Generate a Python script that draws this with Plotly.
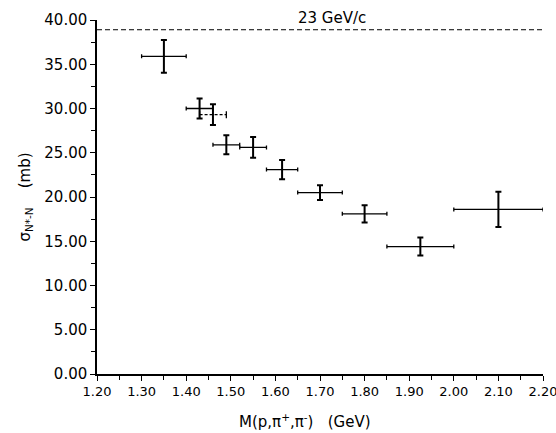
import plotly.graph_objects as go

# Data (solid points)
mass = [1.35, 1.43, 1.49, 1.55, 1.615, 1.70, 1.80, 1.925, 2.10]
sigma = [35.9, 30.0, 25.9, 25.6, 23.1, 20.5, 18.1, 14.4, 18.6]
mass_err = [0.05, 0.03, 0.03, 0.03, 0.035, 0.05, 0.05, 0.075, 0.10]
sigma_err = [1.85, 1.13, 1.07, 1.17, 1.09, 0.83, 0.98, 1.02, 2.0]

# Dashed-bar point
mass_d = [1.46]
sigma_d = [29.3]
mass_err_d = [0.03]
sigma_err_d = [1.17]

# Reference level
ref_value = 38.9
ref_label = "23 GeV/c"
x_range = [1.20, 2.20]
y_range = [0, 40]
x_ticks = [1.20, 1.30, 1.40, 1.50, 1.60, 1.70, 1.80, 1.90, 2.00, 2.10, 2.20]
y_ticks = [0, 5, 10, 15, 20, 25, 30, 35, 40]
x_title = "M(p,π<sup>+</sup>,π<sup>-</sup>)   (GeV)"
y_title = "σ<sub>N*-N</sub>    (mb)"

font_family = "DejaVu Sans"

fig = go.Figure()

fig.add_trace(go.Scatter(
    x=x_range, y=[ref_value, ref_value], mode="lines",
    line=dict(color="black", width=1, dash="5px,3px"), hoverinfo="skip"))

fig.add_trace(go.Scatter(
    x=mass, y=sigma, mode="markers",
    marker=dict(size=1, color="black"),
    error_x=dict(type="data", array=mass_err, color="black", thickness=1.3, width=2),
    error_y=dict(type="data", array=sigma_err, color="black", thickness=2, width=3)))

# dashed horizontal bar for the special point
fig.add_trace(go.Scatter(
    x=[mass_d[0] - mass_err_d[0], mass_d[0] + mass_err_d[0]],
    y=[sigma_d[0], sigma_d[0]], mode="lines+markers",
    line=dict(color="black", width=1.3, dash="3px,2px"),
    marker=dict(symbol="line-ns", size=5, line=dict(color="black", width=1.3))))
fig.add_trace(go.Scatter(
    x=mass_d, y=sigma_d, mode="markers",
    marker=dict(size=1, color="black"),
    error_y=dict(type="data", array=sigma_err_d, color="black", thickness=2, width=3)))

fig.add_annotation(x=1.727, y=ref_value, yshift=12, text=ref_label, showarrow=False,
                   font=dict(family=font_family, size=15, color="black"))

fig.add_annotation(xref="paper", yref="paper", x=0.466, y=-0.133, yanchor="middle",
                   text=x_title, showarrow=False,
                   font=dict(family=font_family, size=15, color="black"))

fig.update_layout(
    width=556, height=433, showlegend=False,
    margin=dict(l=97, r=13, t=20, b=59),
    paper_bgcolor="white", plot_bgcolor="white",
    font=dict(family=font_family, size=14, color="black"),
    xaxis=dict(range=x_range, tickmode="array", tickvals=x_ticks, tickformat=".2f",
               automargin=False, ticklabeloverflow="allow",
               showgrid=False, zeroline=False, showline=True, linecolor="black", linewidth=1.5,
               ticks="outside", ticklen=5, tickwidth=1.3, tickcolor="black",
               tickfont=dict(size=13, color="black"),
               minor=dict(dtick=0.05, tick0=1.2, ticks="outside", ticklen=4, tickcolor="black", tickwidth=1)),
    yaxis=dict(range=y_range, tickmode="array", tickvals=y_ticks, tickformat=".2f",
               automargin=False, ticklabeloverflow="allow",
               showgrid=False, zeroline=False, showline=True, linecolor="black", linewidth=1.5,
               ticks="outside", ticklen=5, tickwidth=1.3, tickcolor="black",
               tickfont=dict(size=15, color="black"),
               minor=dict(dtick=2.5, tick0=0, ticks="outside", ticklen=4, tickcolor="black", tickwidth=1),
               title=dict(text=y_title, standoff=10,
                          font=dict(size=15, color="black"))),
)

fig.write_html("out.html", config={"displayModeBar": False},
               post_script="document.body.style.margin='0';")
